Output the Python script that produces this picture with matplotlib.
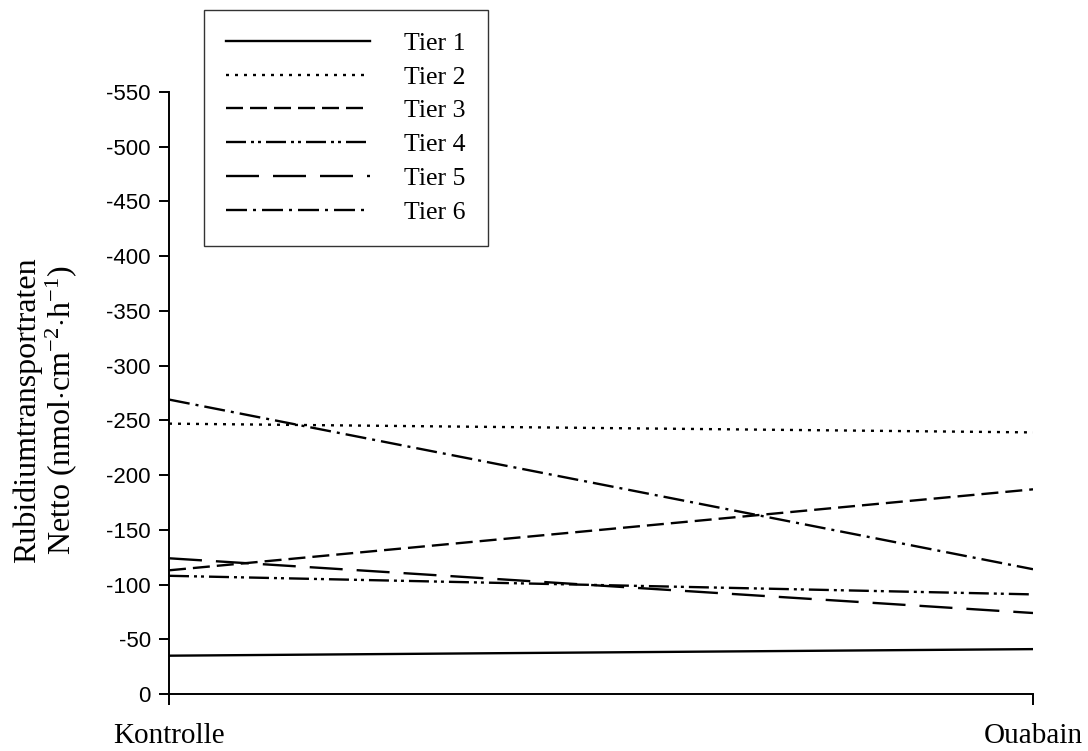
import matplotlib
matplotlib.use("Agg")
import matplotlib.pyplot as plt

categories = ["Kontrolle", "Ouabain"]
series_names = ["Tier 1", "Tier 2", "Tier 3", "Tier 4", "Tier 5", "Tier 6"]
tier1 = [-35, -41]
tier2 = [-247, -239]
tier3 = [-113, -187]
tier4 = [-108, -91]
tier5 = [-124, -74]
tier6 = [-269, -114]
yticks = list(range(0, -551, -50))

plt.rcParams['lines.scale_dashes'] = False
plt.rcParams['mathtext.fontset'] = 'custom'
plt.rcParams['mathtext.rm'] = 'Liberation Serif'
plt.rcParams['mathtext.it'] = 'Liberation Serif:italic'
px = 0.72  # points per pixel at dpi 100
styles = [
    dict(linestyle='-'),
    dict(dashes=(3 * px, 6 * px)),
    dict(dashes=(17 * px, 7 * px)),
    dict(dashes=(20 * px, 5 * px, 3 * px, 4 * px, 3 * px, 5 * px)),
    dict(dashes=(33 * px, 14 * px)),
    dict(dashes=(21 * px, 6 * px, 3 * px, 6 * px)),
]

L, R, T, B = 169, 1033, 92, 694
fig = plt.figure(figsize=(10.88, 7.51), dpi=100)
ax = fig.add_axes([L / 1088, 1 - B / 751, (R - L) / 1088, (B - T) / 751])

data = [tier1, tier2, tier3, tier4, tier5, tier6]
xs = list(range(len(categories)))
handles = []
for name, vals, st in zip(series_names, data, styles):
    h, = ax.plot(xs, vals, color='black', lw=1.7, label=name, **st)
    handles.append(h)

ax.set_xlim(0, 1)
ax.set_ylim(0, -550)
ax.set_yticks(yticks)
ax.set_yticklabels([str(v) for v in yticks], fontfamily='Liberation Sans', fontsize=16)
ax.set_xticks(xs)
ax.set_xticklabels(categories, fontfamily='Liberation Serif', fontsize=21)
ax.spines['top'].set_visible(False)
ax.spines['right'].set_visible(False)
for s in ['left', 'bottom']:
    ax.spines[s].set_linewidth(1.4)
ax.tick_params(axis='y', direction='out', length=7, width=1.4, pad=6)
ax.tick_params(axis='x', direction='out', length=8, width=1.4, pad=13)

fig.text(46 / 1088, 1 - 410 / 751,
         "Rubidiumtransportraten\nNetto (nmol$\\cdot$cm$^{-2}$$\\cdot$h$^{-1}$)",
         rotation=90, ha='center', va='center', multialignment='center',
         fontfamily='Liberation Serif', fontsize=23, linespacing=1.05)

leg = fig.legend(handles=handles, labels=series_names,
                 loc='upper left', bbox_to_anchor=(204 / 1088, 1 - 10 / 751),
                 prop={'family': 'Liberation Serif', 'size': 18.5},
                 frameon=True, fancybox=False, edgecolor='black',
                 handlelength=5.6, handletextpad=1.35, labelspacing=0.42,
                 borderpad=0.85, borderaxespad=0)
leg.get_frame().set_linewidth(1.0)

fig.savefig("out.png", dpi=100)
